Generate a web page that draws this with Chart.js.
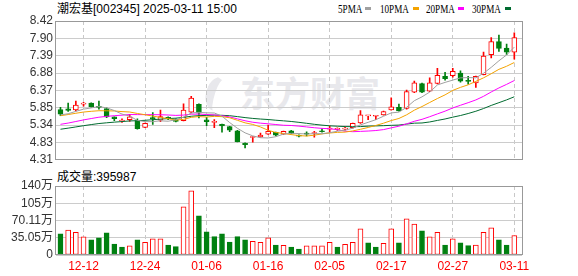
<!DOCTYPE html>
<html><head><meta charset="utf-8">
<script src="https://cdn.jsdelivr.net/npm/chart.js@4/dist/chart.umd.min.js"></script>
<style>
html,body{margin:0;padding:0;background:#fff}
body{width:578px;height:276px;overflow:hidden;position:relative;font-family:'Liberation Sans','Noto Sans CJK SC',sans-serif;color:#000}
#title{position:absolute;left:57px;top:1px;font-size:12px;line-height:16px;white-space:nowrap}
#volLabel{position:absolute;left:57px;top:169px;font-size:12px;line-height:16px;white-space:nowrap}
.lg{position:absolute;top:1px;font-family:'Liberation Serif',serif;font-size:12px;line-height:16px;transform:scaleX(0.76);transform-origin:left center;white-space:nowrap}
.sq{position:absolute;top:7px;width:6px;height:3px}
#wm{position:absolute;left:240px;top:72px;font-family:'Noto Sans CJK SC';font-weight:bold;font-size:35px;line-height:40px;color:#e8e8ec;white-space:nowrap}
#logo{position:absolute;left:206px;top:76px;width:26px;height:36px;border-radius:50%;border-left:9px solid #e8e8ec;border-top:3px solid transparent;transform:rotate(18deg);box-sizing:border-box}
#c1{position:absolute;left:0;top:0}
#c2{position:absolute;left:0;top:170px}
</style></head>
<body>
<div id="logo"></div>
<div id="wm">东方财富</div>
<div id="title">潮宏基[002345] 2025-03-11 15:00</div>
<span class="lg" style="left:338px">5PMA</span><span class="sq" style="left:365px;background:#a0a0a0"></span>
<span class="lg" style="left:380px">10PMA</span><span class="sq" style="left:413px;background:#f4a300"></span>
<span class="lg" style="left:426px">20PMA</span><span class="sq" style="left:458px;background:#ff00ff"></span>
<span class="lg" style="left:472px">30PMA</span><span class="sq" style="left:505px;background:#006b30"></span>
<div id="volLabel">成交量:395987</div>
<canvas id="c1" width="578" height="170"></canvas>
<canvas id="c2" width="578" height="106"></canvas>
<script>
const dates = ['12-09','12-10','12-11','12-12','12-13','12-16','12-17','12-18','12-19','12-20',
'12-23','12-24','12-25','12-26','12-27','12-30','12-31','01-02','01-03','01-06',
'01-07','01-08','01-09','01-10','01-13','01-14','01-15','01-16','01-17','01-20',
'01-21','01-22','01-23','01-24','01-27','02-05','02-06','02-07','02-10','02-11',
'02-12','02-13','02-14','02-17','02-18','02-19','02-20','02-21','02-24','02-25',
'02-26','02-27','02-28','03-03','03-04','03-05','03-06','03-07','03-10','03-11'];
const tickDates = ['12-12','12-24','01-06','01-16','02-05','02-17','02-27','03-11'];
const opens = [5.80,5.82,5.79,5.96,5.99,5.88,5.83,5.58,5.46,5.50,
5.47,5.27,5.54,5.48,5.57,5.50,5.47,5.72,5.95,5.49,
5.42,5.36,5.29,5.17,4.80,4.97,4.99,5.07,5.12,5.07,
5.17,5.04,5.09,5.09,5.17,5.22,5.21,5.22,5.26,5.40,
5.61,5.60,5.64,5.785,5.86,5.83,6.31,6.565,6.34,6.57,
6.78,6.80,6.88,6.66,6.59,6.83,7.42,7.81,7.62,7.50];
const highs = [5.86,5.99,6.05,6.01,6.00,6.05,5.85,5.58,5.52,5.66,
5.52,5.40,5.71,5.785,5.58,5.52,5.97,6.19,5.97,5.57,
5.50,5.37,5.30,5.18,4.81,5.00,5.10,5.34,5.13,5.16,
5.18,5.05,5.14,5.15,5.23,5.31,5.26,5.27,5.40,5.77,
5.63,5.63,5.75,6.145,5.96,6.375,6.64,6.58,6.74,7.02,
6.90,7.02,6.945,6.78,6.79,7.50,7.93,8.00,7.74,8.07];
const lows = [5.62,5.74,5.76,5.90,5.87,5.81,5.56,5.47,5.42,5.45,
5.22,5.26,5.36,5.44,5.50,5.43,5.46,5.70,5.55,5.32,
5.26,5.13,5.14,4.84,4.66,4.83,4.98,5.06,5.02,5.06,
5.08,4.99,5.02,4.98,5.13,5.12,5.18,5.19,5.25,5.39,
5.50,5.50,5.63,5.78,5.75,5.81,6.30,6.30,6.33,6.56,
6.67,6.76,6.61,6.55,6.45,6.82,7.33,7.52,7.42,7.29];
const closes = [5.66,5.77,5.93,5.99,5.88,5.86,5.58,5.53,5.47,5.58,
5.23,5.39,5.53,5.59,5.52,5.45,5.78,6.14,5.69,5.44,
5.43,5.31,5.19,4.85,4.76,4.98,5.04,5.15,5.04,5.15,
5.09,5.01,5.07,5.10,5.14,5.25,5.22,5.23,5.39,5.64,
5.62,5.61,5.74,5.88,5.76,6.33,6.59,6.31,6.59,6.81,
6.71,6.93,6.64,6.63,6.78,7.38,7.81,7.61,7.50,7.93];
// closes of the 29 sessions before the first bar (needed for the moving averages)
const priorCloses = [4.80,4.85,4.90,4.88,4.92,4.95,4.93,4.98,5.00,5.04,
5.02,5.00,5.05,5.06,5.08,5.09,5.12,5.15,5.22,5.26,
5.42,5.55,5.63,5.66,5.69,5.60,5.58,5.66,5.70];
// volume in 万手
const volumes = [42.9,50.4,46.3,36.7,30.6,34.7,44.9,22.4,16.3,18.4,
30.6,25.9,32.7,32.7,20.4,17.0,98.0,130.6,79.6,46.9,
37.4,42.9,26.5,37.4,30.6,27.9,25.9,34.7,20.4,19.7,
16.3,12.2,18.4,18.4,18.4,25.9,16.3,21.8,25.9,53.1,
24.5,16.3,23.8,53.1,24.5,73.5,62.6,49.0,36.7,46.3,
20.4,32.7,24.5,19.0,20.4,46.3,55.1,30.6,20.4,39.6];
const priceTicks = ['4.31','4.83','5.34','5.85','6.37','6.88','7.39','7.90','8.42'];
const priceMin = 4.31, priceMax = 8.42;
const volTicks = ['0','35.05万','70.11万','105万','140万'];
const volMax = 140.22;
const maPeriods = [5,10,20,30];
const maColors = ['#a0a0a0','#f4a300','#ff00ff','#006b30'];

const RED = '#ff0000', GREEN = '#008010';
const allCloses = priorCloses.concat(closes);
const P = priorCloses.length;
function ma(n, i){ let s = 0; for (let k = 0; k < n; k++) s += allCloses[P + i - k]; return s / n; }
const candleUp = closes.map((c, i) => c >= opens[i]);
const volUp = closes.map((c, i) => c >= allCloses[P + i - 1]);
const tickIdx = tickDates.map(d => dates.indexOf(d));
const xMin = -0.58, xMax = 60;

const boxPlugin = {
  id: 'box',
  afterDraw(chart){
    const {ctx, chartArea: a} = chart;
    ctx.save(); ctx.strokeStyle = '#999'; ctx.lineWidth = 1;
    ctx.strokeRect(Math.round(a.left) - 0.5, Math.round(a.top) + 0.5, Math.round(a.right - a.left) + 1, Math.round(a.bottom - a.top) - 1);
    ctx.restore();
  }
};
const font = {family: "'Liberation Sans','Noto Sans CJK SC',sans-serif", size: 12};

function xScale(showLabels){
  return {
    type: 'linear', min: xMin, max: xMax, offset: false,
    afterBuildTicks(s){ s.ticks = tickIdx.map(v => ({value: v})); },
    afterFit(s){ s.height = showLabels ? 21 : 0; },
    grid: {color: '#c8c8c8', drawTicks: false, offset: false},
    border: {display: false, dash: [4,3]},
    ticks: {display: showLabels, autoSkip: false, maxRotation: 0, color: RED, font, padding: 4,
      callback: v => dates[v]}
  };
}

new Chart(document.getElementById('c1'), {
  type: 'bar',
  data: {
    datasets: [
      ...maPeriods.map((n, k) => ({
        type: 'line', order: 0,
        data: closes.map((_, i) => ({x: i, y: ma(n, i)})),
        borderColor: maColors[k], borderWidth: 1, pointRadius: 0, tension: 0, fill: false
      })),
      {
        type: 'bar', order: 1, grouped: false,
        data: closes.map((_, i) => ({x: i, y: [opens[i], closes[i]]})),
        barThickness: 5, minBarLength: 1, borderSkipped: false, borderWidth: 1,
        backgroundColor: candleUp.map(u => u ? '#ffffff' : GREEN),
        borderColor: candleUp.map(u => u ? RED : GREEN)
      },
      {
        type: 'bar', order: 2, grouped: false,
        data: closes.map((_, i) => ({x: i, y: [lows[i], highs[i]]})),
        barThickness: 1, borderWidth: 0,
        backgroundColor: candleUp.map(u => u ? RED : GREEN)
      }
    ]
  },
  options: {
    responsive: false, animation: false,
    layout: {padding: {top: 21, right: 56, bottom: 5, left: 0}},
    plugins: {legend: {display: false}, tooltip: {enabled: false}},
    scales: {
      x: xScale(false),
      y: {
        min: priceMin, max: priceMax,
        afterBuildTicks(s){ s.ticks = priceTicks.map((t, k) => ({value: priceMin + k * (priceMax - priceMin) / 8})); },
        afterFit(s){ s.width = 56; },
        grid: {color: '#cccccc', drawTicks: false},
        border: {display: false},
        ticks: {color: '#333', font, padding: 3, autoSkip: false, callback: (v, idx) => priceTicks[idx]}
      }
    }
  },
  plugins: [boxPlugin]
});

new Chart(document.getElementById('c2'), {
  type: 'bar',
  data: {
    datasets: [{
      grouped: false,
      data: volumes.map((v, i) => ({x: i, y: v})),
      barThickness: 5, borderSkipped: false, borderWidth: 1,
      backgroundColor: volUp.map(u => u ? '#ffffff' : GREEN),
      borderColor: volUp.map(u => u ? RED : GREEN)
    }]
  },
  options: {
    responsive: false, animation: false,
    layout: {padding: {top: 16, right: 56, bottom: 0, left: 0}},
    plugins: {legend: {display: false}, tooltip: {enabled: false}},
    scales: {
      x: xScale(true),
      y: {
        min: 0, max: volMax,
        afterBuildTicks(s){ s.ticks = volTicks.map((t, k) => ({value: k * volMax / 4})); },
        afterFit(s){ s.width = 56; },
        grid: {color: '#cccccc', drawTicks: false},
        border: {display: false},
        ticks: {color: '#333', font, padding: 3, autoSkip: false, callback: (v, idx) => volTicks[idx]}
      }
    }
  },
  plugins: [boxPlugin]
});
</script>
</body></html>
